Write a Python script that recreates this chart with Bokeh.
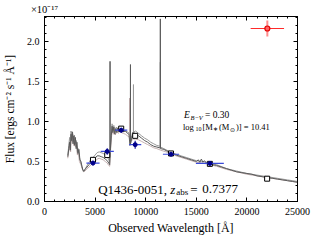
import numpy as np
from bokeh.plotting import figure
from bokeh.models import (ColumnDataSource, Label, LinearAxis, FixedTicker,
                          CustomJSTickFormatter, Range1d)
from bokeh.embed import file_html
from bokeh.resources import INLINE

# ---------------- data ----------------
spec1_wave = [2300, 2400, 2480, 2550, 2620, 2680, 2750, 2820, 2900, 2980, 3050, 3130, 3200,
              3300, 3400, 3500, 3600, 3700, 3800, 3900, 4000, 4200, 4400, 4600, 4800, 5000,
              5200, 5400, 5600, 5800, 6000, 6200, 6350, 6440, 6470, 6477, 6484, 6520, 6600,
              6680, 6760, 6850, 6950, 7050, 7150, 7250, 7350, 7450, 7550, 7650, 7800, 8000,
              8200, 8350, 8440, 8490, 8494, 8498, 8550, 8700, 8790, 8850, 9000, 9300, 9600,
              9900, 10200, 10500, 10800, 11100, 11400, 11444, 11447, 11450, 11500, 11800,
              12100, 12500, 13000, 13500, 14000, 14500, 15000, 15200, 15350, 15500, 15650,
              15800, 16000, 16300, 16600, 17000, 17500, 18000, 18500, 19000, 19500, 20000,
              20500, 21000, 21500, 22000, 22500, 23000, 23500, 24000, 24500, 25000]
spec1_flux = [0.56, 0.66, 0.74, 0.64, 0.84, 0.76, 0.87, 0.72, 0.82, 0.70, 0.80, 0.66, 0.74,
              0.60, 0.65, 0.52, 0.50, 0.44, 0.39, 0.38, 0.40, 0.43, 0.46, 0.49, 0.51, 0.54,
              0.57, 0.57, 0.56, 0.55, 0.53, 0.51, 0.48, 0.46, 0.62, 1.75, 0.64, 0.66, 0.82,
              0.94, 0.86, 0.93, 0.84, 0.91, 0.86, 0.92, 0.87, 0.91, 0.88, 0.90, 0.87, 0.88,
              0.85, 0.84, 0.70, 0.71, 1.71, 0.72, 0.74, 0.86, 0.85, 0.86, 0.84, 0.82, 0.79,
              0.76, 0.74, 0.71, 0.69, 0.68, 0.67, 0.67, 2.28, 0.66, 0.66, 0.65,
              0.63, 0.61, 0.58, 0.56, 0.54, 0.52, 0.50, 0.52, 0.49, 0.53, 0.49,
              0.51, 0.48, 0.48, 0.46, 0.45, 0.43, 0.41, 0.39, 0.37, 0.36, 0.35,
              0.34, 0.32, 0.31, 0.30, 0.29, 0.28, 0.27, 0.26, 0.25, 0.24]

spec2_wave = [2300, 2400, 2480, 2550, 2620, 2700, 2780, 2850, 2950, 3050, 3150, 3250, 3350,
              3450, 3600, 3750, 3850, 3950, 4200, 4400, 4600, 4800, 5000, 5200, 5400, 5600,
              5800, 6000, 6200, 6350, 6440, 6520, 6600, 6680, 6760, 6850, 6950, 7100, 7250,
              7400, 7600, 7800, 8000, 8200, 8400, 8600, 8786, 8790, 8794, 8850, 9000, 9300,
              9600, 9900, 10200, 10500, 10800, 11100, 11443, 11447, 11451, 11800, 12100,
              12500, 13000, 13500, 14000, 14500, 15000, 15500, 16000, 16500, 17000, 18000,
              19000, 20000, 21000, 22000, 23000, 24000, 25000]
spec2_flux = [0.58, 0.70, 0.80, 0.70, 0.88, 0.80, 0.86, 0.75, 0.83, 0.72, 0.76, 0.62, 0.66,
              0.55, 0.48, 0.41, 0.37, 0.39, 0.45, 0.49, 0.53, 0.55, 0.58, 0.61, 0.62, 0.61,
              0.60, 0.58, 0.56, 0.52, 0.49, 0.70, 0.86, 0.97, 0.88, 0.95, 0.87, 0.93, 0.89,
              0.93, 0.90, 0.89, 0.88, 0.87, 0.85, 0.80, 0.84, 1.46, 0.86, 0.87, 0.88, 0.85,
              0.82, 0.79, 0.77, 0.74, 0.72, 0.70, 0.69, 1.74, 0.68, 0.66, 0.64,
              0.62, 0.59, 0.57, 0.55, 0.53, 0.51, 0.50, 0.49, 0.47, 0.46, 0.41,
              0.38, 0.35, 0.33, 0.31, 0.29, 0.27, 0.25]

spec3_wave = [2300, 2400, 2500, 2580, 2650, 2720, 2800, 2880, 2960, 3050, 3150, 3250, 3350,
              3450, 3600, 3750, 3880, 4000, 4200, 4400, 4600, 4800, 5000, 5200, 5400, 5600,
              5800, 6000, 6200, 6350, 6440, 6520, 6600, 6700, 6800, 6900, 7000, 7150, 7300,
              7450, 7600, 7800, 8000, 8200, 8396, 8400, 8404, 8600, 8800, 9000, 9300, 9600,
              9900, 10200, 10500, 10800, 11100, 11500, 12000, 12500, 13000, 14000, 15000,
              16000, 17000, 18000, 19000, 20000, 21000, 22000, 23000, 24000, 25000]
spec3_flux = [0.54, 0.63, 0.70, 0.62, 0.82, 0.74, 0.84, 0.70, 0.79, 0.68, 0.73, 0.58, 0.62,
              0.50, 0.46, 0.40, 0.37, 0.38, 0.41, 0.43, 0.46, 0.48, 0.50, 0.53, 0.54, 0.53,
              0.52, 0.50, 0.48, 0.45, 0.44, 0.62, 0.78, 0.90, 0.84, 0.90, 0.83, 0.88, 0.85,
              0.89, 0.86, 0.85, 0.84, 0.82, 0.80, 1.29, 0.78, 0.76, 0.78, 0.78, 0.77, 0.75,
              0.73, 0.71, 0.69, 0.67, 0.66, 0.64, 0.62, 0.60, 0.57, 0.53, 0.49,
              0.47, 0.44, 0.40, 0.37, 0.34, 0.32, 0.30, 0.28, 0.26, 0.24]

phot_wave = [4790, 6200, 7580, 8960, 12500, 16340]
phot_flux = [0.48, 0.625, 0.89, 0.71, 0.59, 0.475]
phot_werr = [650, 650, 600, 600, 800, 1380]
phot_ferr = [0.03, 0.04, 0.03, 0.05, 0.01, 0.01]

model_wave = [4790, 6200, 7580, 8960, 12500, 16340, 22000]
model_flux = [0.52, 0.58, 0.91, 0.82, 0.60, 0.47, 0.285]

red_wave = [22020]
red_flux = [2.16]
red_werr = [1650]
red_ferr = [0.10]

x_ticks = [0, 5000, 10000, 15000, 20000, 25000]
y_ticks = [0.0, 0.5, 1.0, 1.5, 2.0]

FONT = "Liberation Serif"

# ---------------- figure ----------------
p = figure(width=316, height=241, output_backend="svg", toolbar_location=None,
           x_range=Range1d(0, 25000), y_range=Range1d(0, 2.31),
           min_border_left=43, min_border_right=19, min_border_top=16, min_border_bottom=40)
p.grid.visible = False
p.outline_line_color = "black"
p.outline_line_width = 1
p.background_fill_color = "white"
p.border_fill_color = "white"

def style_axis(ax):
    ax.major_tick_in = 4
    ax.major_tick_out = 0
    ax.minor_tick_in = 2
    ax.minor_tick_out = 0
    ax.axis_line_color = "black"
    ax.major_tick_line_color = "black"
    ax.minor_tick_line_color = "black"
    ax.major_label_text_font = FONT
    ax.major_label_text_font_size = "10px"
    ax.major_label_text_color = "black"
    ax.axis_label_text_font = FONT
    ax.axis_label_text_font_style = "normal"
    ax.axis_label_text_color = "black"

xt = FixedTicker(ticks=x_ticks, minor_ticks=list(range(0, 25001, 1000)))
yt = FixedTicker(ticks=y_ticks, minor_ticks=[round(v * 0.1, 1) for v in range(0, 24)])

p.xaxis.ticker = xt
p.yaxis.ticker = yt
p.yaxis.formatter = CustomJSTickFormatter(code="return tick.toFixed(1);")
p.xaxis.formatter = CustomJSTickFormatter(code="return tick.toFixed(0);")
style_axis(p.xaxis[0])
style_axis(p.yaxis[0])
p.xaxis.major_label_standoff = 6
p.yaxis.major_label_standoff = 5
p.xaxis.axis_label = "Observed Wavelength [Å]"
p.xaxis.axis_label_text_font_size = "12px"
p.xaxis.axis_label_standoff = 3
p.yaxis.axis_label = "Flux [ergs cm⁻² s⁻¹ Å⁻¹]"
p.yaxis.axis_label_text_font_size = "11.5px"
p.yaxis.axis_label_standoff = 8

empty = CustomJSTickFormatter(code="return '';")
ax_r = LinearAxis(ticker=yt, formatter=empty)
style_axis(ax_r)
ax_r.major_label_standoff = 0
ax_t = LinearAxis(ticker=xt, formatter=empty)
style_axis(ax_t)
ax_t.major_label_standoff = 0
ax_t.axis_label = "×10⁻¹⁷"
ax_t.axis_label_align = "start"
ax_t.axis_label_text_font_size = "10.5px"
ax_t.axis_label_standoff = 2
p.add_layout(ax_r, "right")
p.add_layout(ax_t, "above")

# ---------------- spectra ----------------
p.line(spec3_wave, spec3_flux, line_color="#c4b0b0", line_width=1)
p.line(spec2_wave, spec2_flux, line_color="#9a9a9a", line_width=1)
p.line(spec1_wave, spec1_flux, line_color="#5a5a5a", line_width=1)

# model photometry (open squares)
p.scatter(model_wave, model_flux, marker="square", size=5, fill_color="white",
          line_color="black", line_width=1)

# observed photometry
pw = np.array(phot_wave, dtype=float)
pf = np.array(phot_flux, dtype=float)
pwe = np.array(phot_werr, dtype=float)
pfe = np.array(phot_ferr, dtype=float)
src = ColumnDataSource(dict(x=pw, y=pf, x0=pw - pwe, x1=pw + pwe, y0=pf - pfe, y1=pf + pfe))
p.segment(x0="x0", y0="y", x1="x1", y1="y", source=src, line_color="#3a4ad8", line_width=1.2)
p.segment(x0="x", y0="y0", x1="x", y1="y1", source=src, line_color="#1a1aa0", line_width=1.2)
p.scatter("x", "y", source=src, marker="circle", size=4, fill_color="#00008b",
          line_color="#00008b")

# red point
rw = np.array(red_wave, dtype=float)
rf = np.array(red_flux, dtype=float)
rwe = np.array(red_werr, dtype=float)
rfe = np.array(red_ferr, dtype=float)
rsrc = ColumnDataSource(dict(x=rw, y=rf, x0=rw - rwe, x1=rw + rwe, y0=rf - rfe, y1=rf + rfe))
p.segment(x0="x", y0="y0", x1="x", y1="y1", source=rsrc, line_color="#ff8a8a", line_width=2)
p.segment(x0="x0", y0="y", x1="x1", y1="y", source=rsrc, line_color="#ff2a2a", line_width=1.2)
p.scatter("x", "y", source=rsrc, marker="circle", size=5, fill_color="#ff6060",
          line_color="#e00000", line_width=1.2)

# ---------------- texts ----------------
def lab(text, x, y, dx=0, dy=0, size=9, style="normal", font=FONT):
    p.add_layout(Label(x=x, y=y, x_offset=dx, y_offset=dy, text=text,
                       text_font=font, text_font_size=f"{size}px",
                       text_font_style=style, text_color="black",
                       text_baseline="alphabetic", text_align="left"))

# E(B-V)
ex, ey = 13780, 1.075
lab("E", ex, ey, 0, 0, 9.5, "italic")
lab("B−V", ex, ey, 6.5, -2.5, 6.5, "italic")
lab("= 0.30", ex, ey, 21, 0, 9.5)

# stellar mass
mx, my = 13680, 0.925
lab("log", mx, my, 0, 0, 8.5)
lab("10", mx, my, 12.5, -2, 6)
lab("[M", mx, my, 19.5, 0, 8.5)
lab("∗", mx, my, 30, -2, 6)
lab("(M", mx, my, 36, 0, 8.5)
lab("⊙", mx, my, 47, -2, 6, font="DejaVu Sans")
lab(")] = 10.41", mx, my, 53, 0, 8.5)

# object name
qx, qy = 5300, 0.15
lab("Q1436-0051,", qx, qy, 0, 0, 13)
lab("z", qx, qy, 72, 0, 13, "italic")
lab("abs", qx, qy, 78, -3, 9)
lab("=", qx, qy, 92, 0, 13)
lab("0.7377", qx, qy, 104, 0, 13)

open("out.html", "w").write(file_html(p, INLINE))
